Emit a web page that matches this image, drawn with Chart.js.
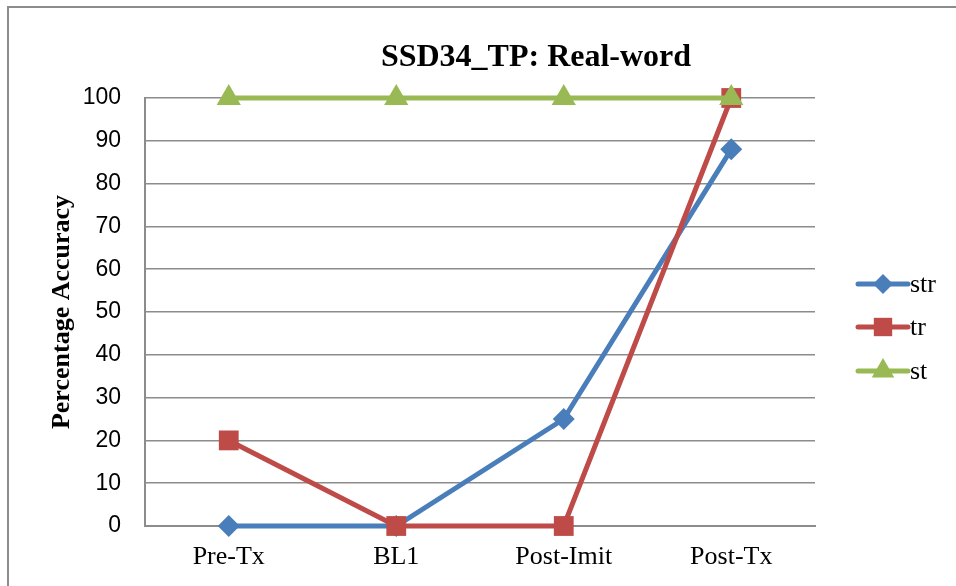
<!DOCTYPE html>
<html>
<head>
<meta charset="utf-8">
<script src="https://cdn.jsdelivr.net/npm/chart.js@4/dist/chart.umd.min.js"></script>
<style>
  html, body { margin: 0; padding: 0; background: #fff; }
  #wrap { width: 956px; height: 586px; position: relative; }
</style>
</head>
<body>
<div id="wrap"><canvas id="chart" width="956" height="586"></canvas></div>
<script>
// chart data
const categories = ['Pre-Tx', 'BL1', 'Post-Imit', 'Post-Tx'];
const strValues = [0, 0, 25, 88];
const trValues = [20, 0, 0, 100];
const stValues = [100, 100, 100, 100];
const yTicks = [0, 10, 20, 30, 40, 50, 60, 70, 80, 90, 100];

const seriesNames = ['str', 'tr', 'st'];
const seriesColors = ['#4a7ebb', '#be4b48', '#98b954'];
const seriesMarkers = ['rectRot', 'rect', 'triangle'];
const markerSizes = [11, 14, 14];

const serif = '"Liberation Serif", "Times New Roman", serif';

// frame, title, axis title and legend drawn on top of the chart
const decorations = {
    id: 'decorations',
    afterDraw(chart) {
        const ctx = chart.ctx;
        ctx.save();
        ctx.strokeStyle = '#8c8c8c';
        ctx.lineWidth = 2;
        ctx.strokeRect(8, 7, 960, 600);

        ctx.fillStyle = '#000';
        ctx.font = 'bold 32px ' + serif;
        ctx.textAlign = 'center';
        ctx.textBaseline = 'middle';
        ctx.fillText('SSD34_TP: Real-word', 536, 58);

        ctx.save();
        ctx.translate(62, 312);
        ctx.rotate(-Math.PI / 2);
        ctx.font = 'bold 26px ' + serif;
        ctx.fillText('Percentage Accuracy', 0, 0);
        ctx.restore();

        const ys = [284, 327, 371];
        seriesNames.forEach((name, i) => {
            const y = ys[i];
            ctx.strokeStyle = seriesColors[i];
            ctx.lineWidth = 5;
            ctx.lineCap = 'round';
            ctx.beginPath();
            ctx.moveTo(858, y);
            ctx.lineTo(908, y);
            ctx.stroke();
            ctx.fillStyle = seriesColors[i];
            Chart.helpers.drawPoint(ctx, {
                pointStyle: seriesMarkers[i],
                radius: markerSizes[i] - 1,
                rotation: 0,
                borderWidth: 0
            }, 883, y);
            ctx.fillStyle = '#000';
            ctx.font = '26px ' + serif;
            ctx.textAlign = 'left';
            ctx.fillText(name, 910, y + 1);
        });
        ctx.restore();
    }
};

function makeSet(i, values) {
    return {
        label: seriesNames[i], data: values,
        borderColor: seriesColors[i], backgroundColor: seriesColors[i],
        borderWidth: 5, pointStyle: seriesMarkers[i], pointRadius: markerSizes[i],
        pointBorderWidth: 0, clip: false,
        order: 2 - i // later series drawn on top
    };
}

const ctx = document.getElementById('chart').getContext('2d');
const chart = new Chart(ctx, {
    type: 'line',
    data: {
        labels: categories,
        datasets: [makeSet(0, strValues), makeSet(1, trValues), makeSet(2, stValues)]
    },
    options: {
        responsive: false,
        animation: false,
        layout: { padding: { top: 98, right: 141, bottom: 0, left: 0 } },
        plugins: {
            legend: { display: false },
            title: { display: false },
            tooltip: { enabled: false }
        },
        scales: {
            x: {
                offset: true,
                grid: { display: false, drawTicks: false },
                border: { color: '#8c8c8c', width: 2 },
                ticks: {
                    color: '#000',
                    padding: 16,
                    font: { family: serif, size: 26 }
                },
                afterFit(scale) { scale.height = 60; }
            },
            y: {
                min: 0, max: 100,
                afterBuildTicks(scale) { scale.ticks = yTicks.map(v => ({ value: v })); },
                grid: { color: '#8c8c8c', lineWidth: 1.5, drawTicks: false },
                border: { color: '#8c8c8c', width: 2 },
                ticks: {
                    color: '#000',
                    padding: 24,
                    font: { family: '"Liberation Sans", Arial, sans-serif', size: 23 }
                },
                afterFit(scale) { scale.width = 145; }
            }
        }
    },
    plugins: [decorations]
});
</script>
</body>
</html>
